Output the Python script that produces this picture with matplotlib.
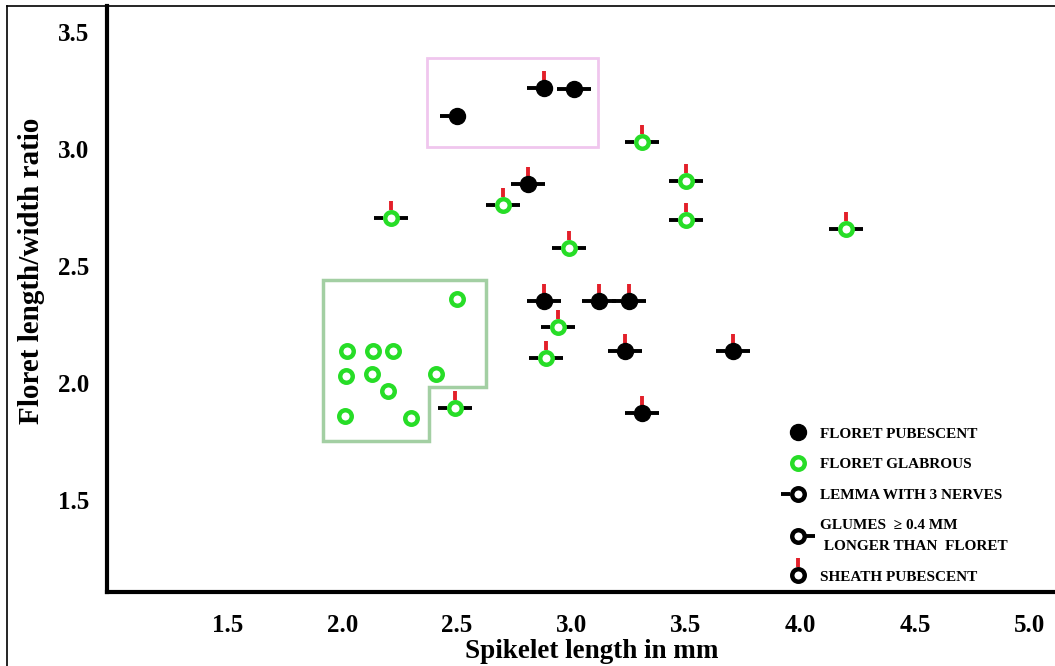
import numpy as np
import matplotlib
matplotlib.use("Agg")
from matplotlib import pyplot as plt
from matplotlib.path import Path
from matplotlib.patches import Polygon
from matplotlib.lines import Line2D
from matplotlib.legend_handler import HandlerTuple

# black dots: floret pubescent
pub_x = [2.50, 2.88, 3.01, 2.81, 2.88, 3.12, 3.25, 3.235, 3.705, 3.31]
pub_y = [3.14, 3.26, 3.255, 2.85, 2.35, 2.35, 2.35, 2.135, 2.135, 1.87]
pub_left = [1, 1, 1, 1, 1, 1, 1, 1, 1, 1]
pub_right = [0, 0, 1, 1, 1, 1, 1, 1, 1, 1]
pub_top = [0, 1, 0, 1, 1, 1, 1, 1, 1, 1]

# green rings: floret glabrous
glab_x = [2.21, 2.70, 3.31, 3.50, 3.50, 4.20, 2.99, 2.94, 2.89, 2.49,
          2.50, 2.02, 2.135, 2.22, 2.015, 2.13, 2.20, 2.41, 2.01, 2.30]
glab_y = [2.705, 2.76, 3.03, 2.865, 2.695, 2.66, 2.575, 2.24, 2.105, 1.895,
          2.36, 2.135, 2.135, 2.135, 2.03, 2.04, 1.965, 2.04, 1.86, 1.85]
glab_left = [1] * 10 + [0] * 10
glab_right = [1] * 10 + [0] * 10
glab_top = [1] * 10 + [0] * 10

# outlined groups
pink_box = [(2.37, 3.39), (3.115, 3.39), (3.115, 3.01), (2.37, 3.01)]
green_box = [(1.915, 2.44), (2.625, 2.44), (2.625, 1.985), (2.38, 1.985),
             (2.38, 1.752), (1.915, 1.752)]

x_ticks = [1.5, 2.0, 2.5, 3.0, 3.5, 4.0, 4.5, 5.0]
y_ticks = [1.5, 2.0, 2.5, 3.0, 3.5]

legend_labels = ["FLORET PUBESCENT", "FLORET GLABROUS", "LEMMA WITH 3 NERVES",
                 "GLUMES  \u2265 0.4 MM\n LONGER THAN  FLORET", "SHEATH PUBESCENT"]

serif = ["Liberation Serif", "DejaVu Serif"]
GREEN = "#27dd27"
RED = "#e3202a"

left_tick = Path([(-1, 0), (-0.45, 0)])
right_tick = Path([(0.45, 0), (1, 0)])
top_tick = Path([(0, 0.45), (0, 1)])

tick_kw = dict(linestyle="none", markersize=24, markeredgewidth=2.8,
               markerfacecolor="none")
dot_kw = dict(linestyle="none", marker="o", markersize=11.5,
              markerfacecolor="black", markeredgecolor="black")
ring_kw = dict(linestyle="none", marker="o", markersize=9,
               markerfacecolor="white", markeredgewidth=3.2)

fig = plt.figure(figsize=(10.55, 6.66), dpi=100)
ax = fig.add_axes([107 / 1055, 74 / 666, 948 / 1055, 586 / 666])
ax.set_xlim(0.972, 5.111)
ax.set_ylim(1.107, 3.611)


def pick(xs, ys, flags):
    return ([x for x, f in zip(xs, flags) if f], [y for y, f in zip(ys, flags) if f])


for xs, ys, L, R, T in [(pub_x, pub_y, pub_left, pub_right, pub_top),
                        (glab_x, glab_y, glab_left, glab_right, glab_top)]:
    ax.plot(*pick(xs, ys, L), marker=left_tick, color="black", **tick_kw)
    ax.plot(*pick(xs, ys, R), marker=right_tick, color="black", **tick_kw)
    ax.plot(*pick(xs, ys, T), marker=top_tick, color=RED, **tick_kw)

ax.plot(pub_x, pub_y, **dot_kw)
ax.plot(glab_x, glab_y, markeredgecolor=GREEN, **ring_kw)

ax.add_patch(Polygon(pink_box, closed=True, fill=False, edgecolor="#f0c6ee", lw=2))
ax.add_patch(Polygon(green_box, closed=True, fill=False, edgecolor="#a3cfa3", lw=2.5))

for s in ["top", "right"]:
    ax.spines[s].set_visible(False)
for s in ["left", "bottom"]:
    ax.spines[s].set_linewidth(3)
    ax.spines[s].set_color("black")

ax.set_xticks(x_ticks)
ax.set_xticklabels([f"{v:.1f}" for v in x_ticks], family=serif,
                   fontweight="bold", fontsize=18)
ax.set_yticks(y_ticks)
ax.set_yticklabels([f"{v:.1f}" for v in y_ticks], family=serif,
                   fontweight="bold", fontsize=18)
ax.tick_params(axis="x", length=0, pad=16)
ax.tick_params(axis="y", length=0, pad=13)

fig.text(592 / 1055, 1 - 651 / 666, "Spikelet length in mm", family=serif,
         fontweight="bold", fontsize=19.5, ha="center", va="center")
fig.text(32 / 1055, 1 - 271 / 666, "Floret length/width ratio", family=serif,
         fontweight="bold", fontsize=21, ha="center", va="center", rotation=90)

# legend handles
h_pub = Line2D([], [], **dot_kw)
h_glab = Line2D([], [], markeredgecolor=GREEN, **ring_kw)
ring_black = Line2D([], [], markeredgecolor="black", **ring_kw)
h_lemma = (Line2D([], [], marker=left_tick, color="black", **tick_kw), ring_black)
h_glume = (Line2D([], [], marker=right_tick, color="black", **tick_kw), ring_black)
h_sheath = (Line2D([], [], marker=top_tick, color=RED, **tick_kw), ring_black)

leg = ax.legend([h_pub, h_glab, h_lemma, h_glume, h_sheath], legend_labels,
                handler_map={tuple: HandlerTuple(ndivide=1)},
                loc="upper left", bbox_to_anchor=(786 / 1055, 1 - 427 / 666),
                bbox_transform=fig.transFigure, frameon=False, numpoints=1,
                handlelength=1.6, handletextpad=0.6, labelspacing=1.12,
                borderpad=0, borderaxespad=0,
                prop={"family": serif, "weight": "bold", "size": 11})
for t in leg.get_texts():
    t.set_linespacing(1.75)

# outer frame of the picture
fig.add_artist(Line2D([7 / 1055, 7 / 1055], [0, 1 - 6 / 666], color="black",
                      lw=1.2, transform=fig.transFigure))
fig.add_artist(Line2D([7 / 1055, 1], [1 - 6 / 666, 1 - 6 / 666], color="black",
                      lw=1.2, transform=fig.transFigure))

fig.savefig("out.png", dpi=100)
